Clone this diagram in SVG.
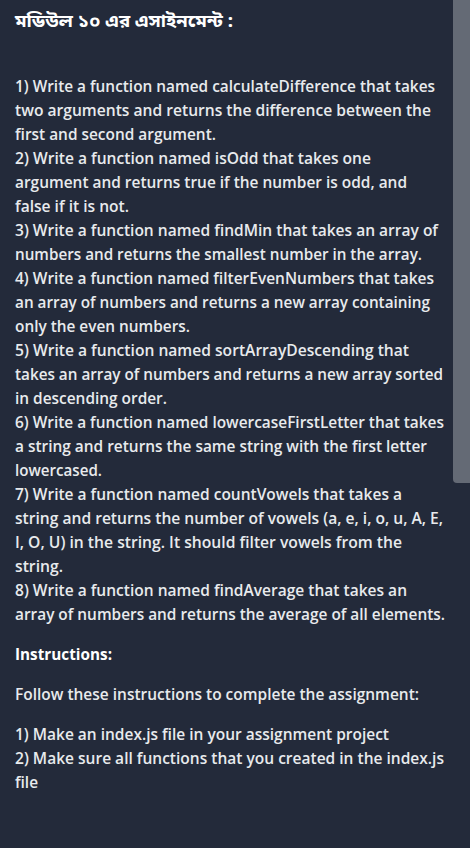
<svg xmlns="http://www.w3.org/2000/svg" width="470" height="848" viewBox="0 0 470 848">
<style>
.bg{fill:#232a3a}
.t{font-family:"Open Sans","Noto Sans","Liberation Sans",sans-serif;font-size:15.8px;font-weight:600;fill:#e8eaed}
.h{font-family:"Noto Sans Bengali","Noto Sans","Open Sans",sans-serif;font-size:18px;font-weight:700;fill:#ffffff}
.b{font-family:"Open Sans","Noto Sans","Liberation Sans",sans-serif;font-size:15.8px;font-weight:700;fill:#ffffff}
.sb{fill:#646a75}
</style>
<rect class="bg" x="0" y="0" width="470" height="848"/>
<path class="sb" d="M453 0 H470 V483 H457 Q453 483 453 479 Z"/>
<g id="title">
<text class="h" x="15" y="27" textLength="218" lengthAdjust="spacingAndGlyphs">মডিউল ১০ এর এসাইনমেন্ট :</text>
</g>
<g id="tasks">
<text class="t" x="15" y="92" textLength="420" lengthAdjust="spacingAndGlyphs">1) Write a function named calculateDifference that takes</text>
<text class="t" x="15" y="116" textLength="416" lengthAdjust="spacingAndGlyphs">two arguments and returns the difference between the</text>
<text class="t" x="15" y="140" textLength="201" lengthAdjust="spacingAndGlyphs">first and second argument.</text>
<text class="t" x="15" y="164" textLength="356" lengthAdjust="spacingAndGlyphs">2) Write a function named isOdd that takes one</text>
<text class="t" x="15" y="188" textLength="392" lengthAdjust="spacingAndGlyphs">argument and returns true if the number is odd, and</text>
<text class="t" x="15" y="212" textLength="114" lengthAdjust="spacingAndGlyphs">false if it is not.</text>
<text class="t" x="15" y="236" textLength="423" lengthAdjust="spacingAndGlyphs">3) Write a function named findMin that takes an array of</text>
<text class="t" x="15" y="260" textLength="407" lengthAdjust="spacingAndGlyphs">numbers and returns the smallest number in the array.</text>
<text class="t" x="15" y="284" textLength="419" lengthAdjust="spacingAndGlyphs">4) Write a function named filterEvenNumbers that takes</text>
<text class="t" x="15" y="308" textLength="415" lengthAdjust="spacingAndGlyphs">an array of numbers and returns a new array containing</text>
<text class="t" x="15" y="332" textLength="175" lengthAdjust="spacingAndGlyphs">only the even numbers.</text>
<text class="t" x="15" y="356" textLength="394" lengthAdjust="spacingAndGlyphs">5) Write a function named sortArrayDescending that</text>
<text class="t" x="15" y="380" textLength="428" lengthAdjust="spacingAndGlyphs">takes an array of numbers and returns a new array sorted</text>
<text class="t" x="15" y="404" textLength="152" lengthAdjust="spacingAndGlyphs">in descending order.</text>
<text class="t" x="15" y="428" textLength="429" lengthAdjust="spacingAndGlyphs">6) Write a function named lowercaseFirstLetter that takes</text>
<text class="t" x="15" y="452" textLength="412" lengthAdjust="spacingAndGlyphs">a string and returns the same string with the first letter</text>
<text class="t" x="15" y="476" textLength="87" lengthAdjust="spacingAndGlyphs">lowercased.</text>
<text class="t" x="15" y="500" textLength="387" lengthAdjust="spacingAndGlyphs">7) Write a function named countVowels that takes a</text>
<text class="t" x="15" y="524" textLength="428" lengthAdjust="spacingAndGlyphs">string and returns the number of vowels (a, e, i, o, u, A, E,</text>
<text class="t" x="15" y="548" textLength="387" lengthAdjust="spacingAndGlyphs">I, O, U) in the string. It should filter vowels from the</text>
<text class="t" x="15" y="572" textLength="48" lengthAdjust="spacingAndGlyphs">string.</text>
<text class="t" x="15" y="596" textLength="392" lengthAdjust="spacingAndGlyphs">8) Write a function named findAverage that takes an</text>
<text class="t" x="15" y="620" textLength="430" lengthAdjust="spacingAndGlyphs">array of numbers and returns the average of all elements.</text>
</g>
<g id="instructions">
<text class="b" x="15" y="660" textLength="97" lengthAdjust="spacingAndGlyphs">Instructions:</text>
<text class="t" x="15" y="700" textLength="404" lengthAdjust="spacingAndGlyphs">Follow these instructions to complete the assignment:</text>
<text class="t" x="15" y="740" textLength="374" lengthAdjust="spacingAndGlyphs">1) Make an index.js file in your assignment project</text>
<text class="t" x="15" y="764" textLength="429" lengthAdjust="spacingAndGlyphs">2) Make sure all functions that you created in the index.js</text>
<text class="t" x="15" y="788" textLength="23" lengthAdjust="spacingAndGlyphs">file</text>
</g>
</svg>
